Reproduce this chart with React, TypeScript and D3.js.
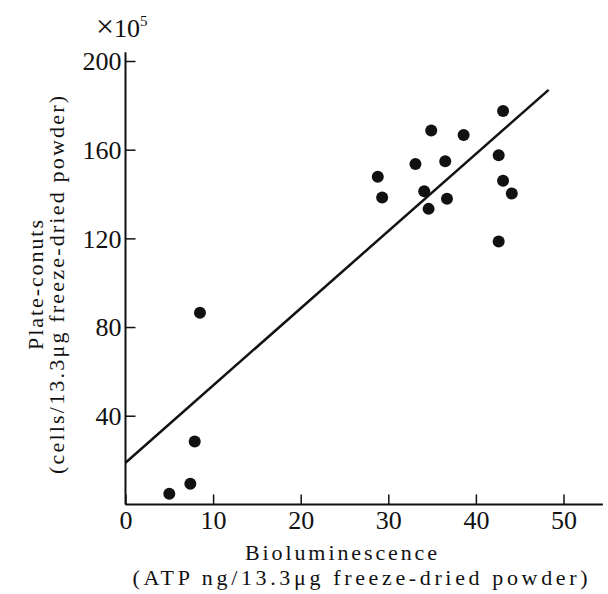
import { useEffect, useRef } from 'react'
import * as d3 from 'd3'

// Bioluminescence (x) vs plate counts (y, ×10^5)
const bioluminescence = [
  5.0, 7.4, 7.9, 8.5,
  28.8, 29.3, 33.1, 34.1, 34.6, 34.9, 36.5, 36.7, 38.6,
  42.6, 42.6, 43.1, 43.1, 44.1,
]
const plateCounts = [
  4.8, 9.3, 28.4, 86.4,
  147.8, 138.4, 153.5, 141.3, 133.3, 168.7, 154.8, 137.9, 166.6,
  157.5, 118.6, 177.4, 146, 140.2,
]

// regression line end points
const fitX = [0, 48.3]
const fitY = [18.8, 187]

const xTicks = [0, 10, 20, 30, 40, 50]
const yTicks = [40, 80, 120, 160, 200]

const W = 608
const H = 594
const FONT = "'Liberation Serif', 'DejaVu Serif', serif"

export default function App() {
  const svgRef = useRef<SVGSVGElement>(null)

  useEffect(() => {
    if (!svgRef.current) return
    const svg = d3.select(svgRef.current)
    svg.selectAll('*').remove()

    const x = d3.scaleLinear().domain([0, 50]).range([125.5, 563.5])
    const y = d3.scaleLinear().domain([0, 200]).range([504.4, 61])

    // axis lines
    svg.append('line')
      .attr('x1', x(0)).attr('x2', x(54.5))
      .attr('y1', y(0)).attr('y2', y(0))
      .attr('stroke', '#111').attr('stroke-width', 2)
    svg.append('line')
      .attr('x1', x(0)).attr('x2', x(0))
      .attr('y1', y(0)).attr('y2', y(204))
      .attr('stroke', '#111').attr('stroke-width', 2)

    const xAxis = svg.append('g')
      .attr('transform', `translate(0,${y(0)})`)
      .call(d3.axisBottom(x).tickValues(xTicks).tickSize(-10).tickPadding(6).tickFormat(d3.format('d')))
    const yAxis = svg.append('g')
      .attr('transform', `translate(${x(0)},0)`)
      .call(d3.axisLeft(y).tickValues(yTicks).tickSize(-10).tickPadding(4).tickFormat(d3.format('d')))

    for (const ax of [xAxis, yAxis]) {
      ax.attr('font-family', null).attr('font-size', null)
      ax.select('.domain').remove()
      ax.selectAll('line').attr('stroke', '#111').attr('stroke-width', 1.5)
      ax.selectAll('text')
        .attr('fill', '#111')
        .style('font-family', FONT)
        .style('font-size', '26px')
    }
    xAxis.selectAll('text').attr('dy', '0.7em')
    yAxis.selectAll('text').attr('dy', '0.34em')

    // ×10^5 multiplier
    const mult = svg.append('text')
      .attr('x', 96).attr('y', 37)
      .style('font-family', FONT).style('font-size', '26px').attr('fill', '#111')
    mult.append('tspan').style('font-size', '32px').text('×')
    mult.append('tspan').text('10')
    mult.append('tspan').style('font-size', '15px').attr('dy', -11).text('5')

    // regression line
    const line = d3.line<number>().x((d) => x(d)).y((_, i) => y(fitY[i]))
    svg.append('path')
      .attr('d', line(fitX))
      .attr('fill', 'none')
      .attr('stroke', '#111')
      .attr('stroke-width', 2.5)

    // points
    svg.append('g')
      .selectAll('circle')
      .data(bioluminescence)
      .enter()
      .append('circle')
      .attr('cx', (d) => x(d))
      .attr('cy', (_, i) => y(plateCounts[i]))
      .attr('r', 6)
      .attr('fill', '#111')

    // x title
    svg.append('text')
      .attr('x', 341).attr('y', 560)
      .attr('text-anchor', 'middle')
      .style('font-family', FONT).style('font-size', '22px').attr('fill', '#111')
      .attr('textLength', 192).attr('lengthAdjust', 'spacing')
      .text('Bioluminescence')
    svg.append('text')
      .attr('x', 360).attr('y', 585)
      .attr('text-anchor', 'middle')
      .style('font-family', FONT).style('font-size', '22px').attr('fill', '#111')
      .attr('textLength', 455).attr('lengthAdjust', 'spacing')
      .text('(ATP ng/13.3μg freeze-dried powder)')

    // y title
    const yt = svg.append('g').attr('transform', 'translate(0,285) rotate(-90)')
    yt.append('text')
      .attr('x', 0).attr('y', 43)
      .attr('text-anchor', 'middle')
      .style('font-family', FONT).style('font-size', '22px').attr('fill', '#111')
      .attr('textLength', 130).attr('lengthAdjust', 'spacing')
      .text('Plate-conuts')
    yt.append('text')
      .attr('x', 0).attr('y', 64)
      .attr('text-anchor', 'middle')
      .style('font-family', FONT).style('font-size', '22px').attr('fill', '#111')
      .attr('textLength', 378).attr('lengthAdjust', 'spacing')
      .text('(cells/13.3μg freeze-dried powder)')
  }, [])

  return (
    <svg
      ref={svgRef}
      width={W}
      height={H}
      style={{ position: 'absolute', left: 0, top: 0, background: '#fff' }}
    />
  )
}
